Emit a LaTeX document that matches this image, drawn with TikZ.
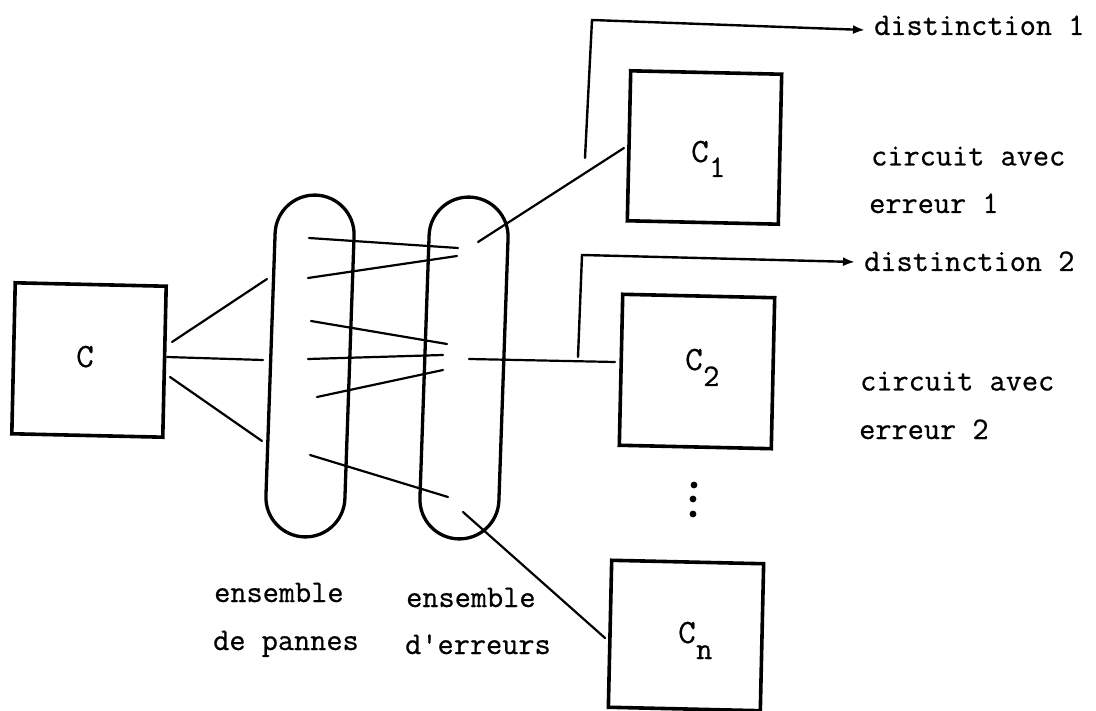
\documentclass[tikz,border=0pt]{standalone}
\usepackage{fontspec}
\setmonofont{Latin Modern Mono}[FakeBold=0.6]
\usetikzlibrary{arrows.meta,shapes.misc}
\tikzset{
  box/.style={draw,line width=3.6pt,inner sep=0pt,rotate=-1.3},
  oval/.style={draw,line width=3.3pt,rounded rectangle,rounded rectangle arc length=180,inner sep=0pt,shape border rotate=90},
  lbl/.style={font=\ttfamily\fontsize{31.4}{36}\selectfont,inner sep=0pt,anchor=base west},
  nm/.style={font=\ttfamily\fontsize{34}{36}\selectfont,inner sep=0pt,anchor=base west},
  wire/.style={line width=2.2pt,line cap=round},
  arr/.style={line width=2.4pt,line cap=round,-{Latex[length=12pt,width=9pt]}}
}
\begin{document}
\begin{tikzpicture}[x=1pt,y=-1pt]
\useasboundingbox (0,0) rectangle (1096,711);
\fill[white] (0,0) rectangle (1096,711);
% boxes
\node[box,minimum width=151pt,minimum height=151pt] (c) at (89,360) {};
\node[box,minimum width=151pt,minimum height=150pt] (c1) at (704.5,147.5) {};
\node[box,minimum width=152pt,minimum height=151pt] (c2) at (697,371.5) {};
\node[box,minimum width=152pt,minimum height=147pt] (cn) at (686,635.5) {};
\node[nm] (tc) at (76,367) {C};
\node[nm] (tc1) at (691,162) {C};
\node[lbl] (tc1s) at (709,177) {1};
\node[nm] (tc2) at (685,370) {C};
\node[lbl] (tc2s) at (703,386) {2};
\node[nm] (tcn) at (678,643) {C};
\node[lbl] (tcns) at (696,659) {n};
% ovals
\node[oval,minimum height=79pt,minimum width=342pt,rotate=88] (o1) at (310,366) {};
\node[oval,minimum height=79pt,minimum width=342pt,rotate=88] (o2) at (464,368) {};
% free ends
\coordinate (a1) at (172,342); \coordinate (a2) at (267,279);
\coordinate (b1) at (167,357); \coordinate (b2) at (263,360);
\coordinate (d1) at (170,377); \coordinate (d2) at (262,441);
\coordinate (e1) at (309,238); \coordinate (e2) at (458,248);
\coordinate (f1) at (308,278); \coordinate (f2) at (457,256);
\coordinate (g1) at (311,321); \coordinate (g2) at (447,344);
\coordinate (h1) at (308,359); \coordinate (h2) at (443,355);
\coordinate (i1) at (317,397); \coordinate (i2) at (443,370);
\coordinate (j1) at (310,455); \coordinate (j2) at (448,497);
\coordinate (k1) at (478,242); \coordinate (k2) at (624,148);
\coordinate (l1) at (469,359); \coordinate (l2) at (615,362);
\coordinate (m1) at (463,512); \coordinate (m2) at (605,638);
\coordinate (p0) at (585,158); \coordinate (p1) at (592,20); \coordinate (p2) at (865,30);
\coordinate (q0) at (578,357); \coordinate (q1) at (582,255); \coordinate (q2) at (855,262);
% wires
\foreach \s/\t in {a1/a2,b1/b2,d1/d2,e1/e2,f1/f2,g1/g2,h1/h2,i1/i2,j1/j2,k1/k2,l1/l2,m1/m2}
  \draw[wire] (\s) -- (\t);
\draw[arr] (p0) -- (p1) -- (p2);
\draw[arr] (q0) -- (q1) -- (q2);
% dots
\fill (694,485) circle (3.4) (693,499) circle (3.4) (693,514) circle (3.4);
% labels
\node[lbl] (t1) at (874,35) {distinction 1};
\node[lbl] (t2) at (864,271) {distinction 2};
\node[lbl] (t3) at (871,165.5) {circuit avec};
\node[lbl] (t4) at (869,213) {erreur 1};
\node[lbl] (t5) at (860,390.5) {circuit avec};
\node[lbl] (t6) at (859,439) {erreur 2};
\node[lbl] (t7) at (214,602) {ensemble};
\node[lbl] (t8) at (213,650) {de pannes};
\node[lbl] (t9) at (406,607) {ensemble};
\node[lbl] (t10) at (405,654) {d'erreurs};
\end{tikzpicture}
\end{document}
